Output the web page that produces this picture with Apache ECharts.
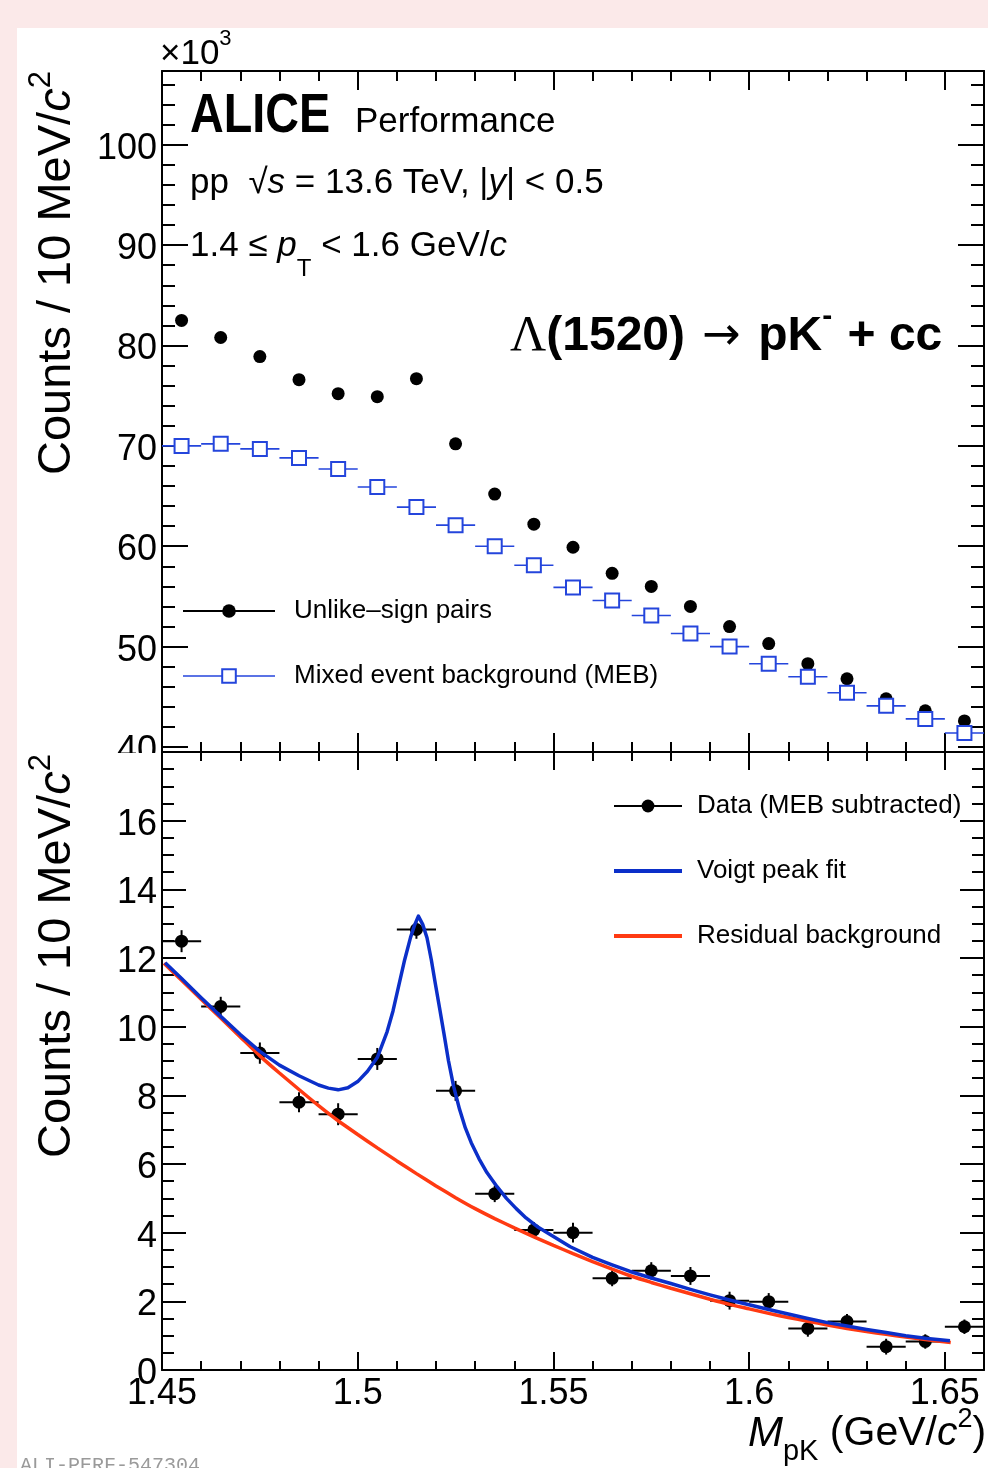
<!DOCTYPE html>
<html><head><meta charset="utf-8">
<script src="https://cdn.jsdelivr.net/npm/echarts@6/dist/echarts.min.js"></script>
<style>
html,body{margin:0;padding:0;background:#fbe9e9;width:988px;height:1468px;overflow:hidden;}
#bg{position:absolute;left:17px;top:28px;right:0;bottom:0;background:#fff;}
#c{position:absolute;left:0;top:0;width:988px;height:1468px;}
</style></head><body><div id="bg"></div><div id="c"></div><script>
// ---------------- data (values in units of 10^3 counts) ----------------
const binCenters = [1.455,1.465,1.475,1.485,1.495,1.505,1.515,1.525,1.535,1.545,1.555,1.565,1.575,1.585,1.595,1.605,1.615,1.625,1.635,1.645,1.655];
const unlikeSign = [82.5,80.8,78.9,76.6,75.2,74.9,76.7,70.2,65.2,62.2,59.9,57.3,56.0,54.0,52.0,50.3,48.3,46.8,44.8,43.6,42.6];
const mixedEvent = [70.0,70.2,69.7,68.8,67.7,65.9,63.9,62.1,60.0,58.1,55.9,54.6,53.1,51.3,50.0,48.3,47.0,45.4,44.1,42.8,41.4];
const subtracted = [12.49,10.59,9.23,7.80,7.45,9.06,12.83,8.13,5.13,4.08,4.00,2.67,2.89,2.74,2.02,1.99,1.21,1.41,0.68,0.83,1.26];
const subtractedErr = [0.32,0.28,0.31,0.29,0.32,0.32,0.27,0.29,0.24,0.23,0.29,0.23,0.25,0.26,0.26,0.25,0.24,0.22,0.23,0.21,0.21];
const binHalfWidth = 0.005;
const voigtX = [1.4508,1.455,1.46,1.465,1.47,1.475,1.48,1.485,1.49,1.4925,1.495,1.4975,1.50,1.5025,1.505,1.5075,1.509,1.5105,1.512,1.5135,1.5145,1.5155,1.5166,1.5177,1.5188,1.5198,1.5209,1.522,1.5232,1.5245,1.526,1.5275,1.529,1.531,1.533,1.5356,1.538,1.5405,1.543,1.5458,1.55,1.5543,1.56,1.565,1.5696,1.575,1.58,1.585,1.59,1.595,1.60,1.605,1.61,1.615,1.62,1.625,1.63,1.635,1.64,1.6455,1.6513];
const voigtY = [11.86,11.40,10.84,10.30,9.77,9.28,8.88,8.57,8.30,8.21,8.16,8.22,8.40,8.70,9.10,9.85,10.45,11.20,11.95,12.60,12.95,13.22,12.98,12.59,11.95,11.27,10.55,9.82,9.00,8.26,7.60,7.05,6.62,6.15,5.75,5.34,5.00,4.70,4.43,4.18,3.89,3.59,3.28,3.06,2.87,2.68,2.52,2.35,2.19,2.04,1.90,1.76,1.63,1.50,1.38,1.28,1.18,1.09,1.00,0.92,0.85];
const bkgX = [1.4505,1.455,1.46,1.465,1.47,1.475,1.48,1.485,1.49,1.495,1.50,1.505,1.51,1.515,1.52,1.525,1.53,1.535,1.54,1.545,1.55,1.555,1.56,1.565,1.57,1.575,1.58,1.585,1.59,1.595,1.60,1.605,1.61,1.615,1.62,1.625,1.63,1.635,1.64,1.645,1.6515];
const bkgY = [11.85,11.35,10.80,10.25,9.70,9.15,8.65,8.17,7.70,7.26,6.86,6.47,6.09,5.72,5.36,5.02,4.70,4.41,4.14,3.88,3.63,3.39,3.16,2.94,2.73,2.55,2.38,2.22,2.06,1.91,1.78,1.65,1.53,1.42,1.31,1.21,1.12,1.04,0.96,0.89,0.80];
const xMajorTicks = [1.45,1.5,1.55,1.6,1.65];
const yTopMajorTicks = [40,50,60,70,80,90,100];
const yBotMajorTicks = [0,2,4,6,8,10,12,14,16];
const seriesNames = ['Unlike\u2013sign pairs','Mixed event background (MEB)','Data (MEB subtracted)','Voigt peak fit','Residual background'];

// ---------------- axis ranges / minor ticks ----------------
const xMin = 1.45, xMax = 1.66;
const yTopMin = 39.5, yTopMax = 107.35;
const yBotMin = 0, yBotMax = 18;
function minorTicks(lo, hi, step, major) {
  const out = [];
  for (let k = 0; lo + k * step <= hi + 1e-9; k++) {
    const v = +(lo + k * step).toFixed(4);
    if (!major.some(m => Math.abs(m - v) < 1e-6)) out.push(v);
  }
  return out;
}
const xMinor = minorTicks(1.46, 1.65, 0.01, xMajorTicks);
const yTopMinor = minorTicks(42, 106, 2, yTopMajorTicks);
const yBotMinor = minorTicks(0.5, 17.5, 0.5, yBotMajorTicks);

const FONT = "'Liberation Sans', Arial, Helvetica, sans-serif";
const MEB_BLUE = '#2445dc', FIT_BLUE = '#0b2fc9', RED = '#ff3a12';

function xAx(grid, pos, ticks, len, isMajor, labels) {
  return { type:'value', gridIndex:grid, position:pos, min:xMin, max:xMax,
    axisLine:{show:isMajor, onZero:false, lineStyle:{color:'#000', width:2}},
    axisTick:{show:true, inside:true, length:len, customValues:ticks, lineStyle:{color:'#000', width:2}},
    axisLabel:{show:!!labels, customValues:labels ? ticks : undefined, margin:6, color:'#000', fontSize:36, fontFamily:FONT,
      formatter: v => String(+(+v).toFixed(2))},
    splitLine:{show:false} };
}
function yAx(grid, pos, min, max, ticks, len, isMajor, labels) {
  return { type:'value', gridIndex:grid, position:pos, min:min, max:max,
    axisLine:{show:isMajor, onZero:false, lineStyle:{color:'#000', width:2}},
    axisTick:{show:true, inside:true, length:len, customValues:ticks, lineStyle:{color:'#000', width:2}},
    axisLabel:{show:!!labels, customValues:labels ? ticks : undefined, margin:5,
      formatter: v => '{a|' + String(+(+v).toFixed(2)) + '}',
      rich:{a:{color:'#000', fontSize:36, fontFamily:FONT, padding:[8,0,0,0]}}},
    splitLine:{show:false} };
}

const xAxes = [
  xAx(0,'bottom',xMajorTicks,19,true,false), xAx(0,'bottom',xMinor,10,false,false),
  xAx(0,'top',xMajorTicks,19,true,false),    xAx(0,'top',xMinor,10,false,false),
  xAx(1,'bottom',xMajorTicks,18,true,true),  xAx(1,'bottom',xMinor,9,false,false),
  xAx(1,'top',xMajorTicks,18,true,false),    xAx(1,'top',xMinor,9,false,false)
];
const yAxes = [
  yAx(0,'left',yTopMin,yTopMax,yTopMajorTicks,26,true,true),   yAx(0,'left',yTopMin,yTopMax,yTopMinor,13,false,false),
  yAx(0,'right',yTopMin,yTopMax,yTopMajorTicks,26,true,false), yAx(0,'right',yTopMin,yTopMax,yTopMinor,13,false,false),
  yAx(1,'left',yBotMin,yBotMax,yBotMajorTicks,24,true,true),   yAx(1,'left',yBotMin,yBotMax,yBotMinor,12,false,false),
  yAx(1,'right',yBotMin,yBotMax,yBotMajorTicks,24,true,false), yAx(1,'right',yBotMin,yBotMax,yBotMinor,12,false,false)
];

function errBars(color, lw) {
  return function (params, api) {
    const x = api.value(0), y = api.value(1), e = api.value(2);
    const l = api.coord([x - binHalfWidth, y]), r = api.coord([x + binHalfWidth, y]);
    const children = [{type:'line', shape:{x1:l[0], y1:l[1], x2:r[0], y2:r[1]}, style:{stroke:color, lineWidth:lw}}];
    if (e > 0) {
      const t = api.coord([x, y + e]), b = api.coord([x, y - e]);
      children.push({type:'line', shape:{x1:t[0], y1:t[1], x2:b[0], y2:b[1]}, style:{stroke:color, lineWidth:lw}});
    }
    return {type:'group', children};
  };
}

// ---------------- text helper ----------------
const mctx = document.createElement('canvas').getContext('2d');
function run(x0, y0, pieces, rotated) {
  const els = []; let adv = 0;
  pieces.forEach(p => {
    const fam = p.family || FONT, st = p.italic ? 'italic' : 'normal', wt = p.bold ? 'bold' : 'normal';
    const sx = p.sx || 1;
    mctx.font = st + ' ' + wt + ' ' + p.size + 'px ' + fam;
    const w = mctx.measureText(p.text).width * sx;
    adv += (p.gap || 0);
    const dy = p.dy || 0;
    els.push({ type:'text', z:100,
      x: rotated ? x0 - dy : x0 + adv, y: rotated ? y0 - adv : y0 - dy,
      rotation: rotated ? Math.PI / 2 : 0, scaleX: sx,
      style: { text:p.text, fill:'#000', fontSize:p.size, fontFamily:fam, fontStyle:st, fontWeight:wt, align:'left', verticalAlign:'middle' } });
    adv += w;
  });
  return els;
}
const S = 35;
const texts = [].concat(
  run(160, 54, [{text:'\u00d710', size:35}, {text:'3', size:22, dy:15}]),
  run(190, 117, [{text:'ALICE', size:55, bold:true, sx:0.85}]),
  run(355, 122, [{text:'Performance', size:35}]),
  run(190, 183, [{text:'pp  \u221a', size:S}, {text:'s', size:S, italic:true}, {text:' = 13.6 TeV, |', size:S}, {text:'y', size:S, italic:true}, {text:'| < 0.5', size:S}]),
  run(190, 246, [{text:'1.4 \u2264 ', size:S}, {text:'p', size:S, italic:true}, {text:'T', size:24, dy:-23}, {text:' < 1.6 GeV/', size:S}, {text:'c', size:S, italic:true}]),
  run(510, 337, [{text:'\u039b', size:50, family:"'Liberation Serif', 'Times New Roman', serif"}, {text:'(1520) ', size:48, bold:true}, {text:'\u2192', size:46, family:"'DejaVu Sans', sans-serif", gap:4}, {text:' pK', size:48, bold:true, gap:4}, {text:'-', size:30, bold:true, dy:20}, {text:' + cc', size:48, bold:true, gap:2}]),
  run(57, 475, [{text:'Counts / 10 MeV/', size:47}, {text:'c', size:47, italic:true}, {text:'2', size:31, dy:16}], true),
  run(57, 1158, [{text:'Counts / 10 MeV/', size:47}, {text:'c', size:47, italic:true}, {text:'2', size:31, dy:16}], true),
  run(748, 1434, [{text:'M', size:42, italic:true}, {text:'pK', size:29, dy:-18}, {text:' (GeV/', size:41}, {text:'c', size:41, italic:true}, {text:'2', size:27, dy:14}, {text:')', size:41}])
);
texts.push({type:'rect', z:90, shape:{x:85, y:753, width:75, height:18}, style:{fill:'#fff'}});
texts.push({type:'text', z:100, x:20, y:1466, style:{text:'ALI-PERF-547304', fill:'#9a9a9a', fontSize:20, fontFamily:"'Liberation Mono', monospace", align:'left', verticalAlign:'middle'}});

const chart = echarts.init(document.getElementById('c'), null, {renderer:'canvas'});
chart.setOption({
  animation:false,
  backgroundColor:'transparent',
  grid:[{left:162, top:71, width:822, height:681}, {left:162, top:752, width:822, height:618}],
  xAxis:xAxes, yAxis:yAxes,
  legend:[
    {data:[{name:seriesNames[0], lineStyle:{color:'#000', width:2, opacity:1, type:'solid'}},
           {name:seriesNames[1], lineStyle:{color:MEB_BLUE, width:1.6, opacity:1, type:'solid'}}],
     orient:'vertical', left:182, top:596, itemWidth:92, itemHeight:17, itemGap:35, padding:0, selectedMode:false,
     textStyle:{fontSize:26, fontFamily:FONT, color:'#000', lineHeight:30, padding:[0,0,0,14]}},
    {data:[{name:seriesNames[2], lineStyle:{color:'#000', width:2, opacity:1, type:'solid'}},
           {name:seriesNames[3], itemStyle:{opacity:0}, lineStyle:{color:FIT_BLUE, width:4, opacity:1}},
           {name:seriesNames[4], itemStyle:{opacity:0}, lineStyle:{color:RED, width:4, opacity:1}}],
     orient:'vertical', left:612, top:791, itemWidth:68, itemHeight:16, itemGap:35, padding:0, selectedMode:false,
     textStyle:{fontSize:26, fontFamily:FONT, color:'#000', lineHeight:30, padding:[0,0,0,10]}}
  ],
  graphic:texts,
  series:[
    {type:'line', name:seriesNames[0], xAxisIndex:0, yAxisIndex:0, data:binCenters.map((x,i)=>[x, unlikeSign[i]]),
     symbol:'circle', symbolSize:13, itemStyle:{color:'#000'}, lineStyle:{opacity:0}, z:3},
    {type:'custom', xAxisIndex:0, yAxisIndex:0, data:binCenters.map((x,i)=>[x, mixedEvent[i], 0]),
     encode:{x:0, y:1}, renderItem:errBars(MEB_BLUE, 1.6), z:2},
    {type:'line', name:seriesNames[1], xAxisIndex:0, yAxisIndex:0, data:binCenters.map((x,i)=>[x, mixedEvent[i]]),
     symbol:'emptyRect', symbolSize:14, itemStyle:{color:MEB_BLUE, borderWidth:1.6}, lineStyle:{opacity:0}, z:3},
    {type:'custom', xAxisIndex:4, yAxisIndex:4, data:binCenters.map((x,i)=>[x, subtracted[i], subtractedErr[i]]),
     encode:{x:0, y:1}, renderItem:errBars('#000', 2), z:2},
    {type:'line', name:seriesNames[2], xAxisIndex:4, yAxisIndex:4, data:binCenters.map((x,i)=>[x, subtracted[i]]),
     symbol:'circle', symbolSize:13, itemStyle:{color:'#000'}, lineStyle:{opacity:0}, z:3},
    {type:'line', name:seriesNames[4], xAxisIndex:4, yAxisIndex:4, data:bkgX.map((x,i)=>[x, bkgY[i]]),
     symbol:'none', showSymbol:false, smooth:0.2, itemStyle:{color:RED}, lineStyle:{color:RED, width:3.5}, z:4},
    {type:'line', name:seriesNames[3], xAxisIndex:4, yAxisIndex:4, data:voigtX.map((x,i)=>[x, voigtY[i]]),
     symbol:'none', showSymbol:false, itemStyle:{color:FIT_BLUE}, lineStyle:{color:FIT_BLUE, width:3.5, join:'round'}, z:5}
  ]
});
</script></body></html>
